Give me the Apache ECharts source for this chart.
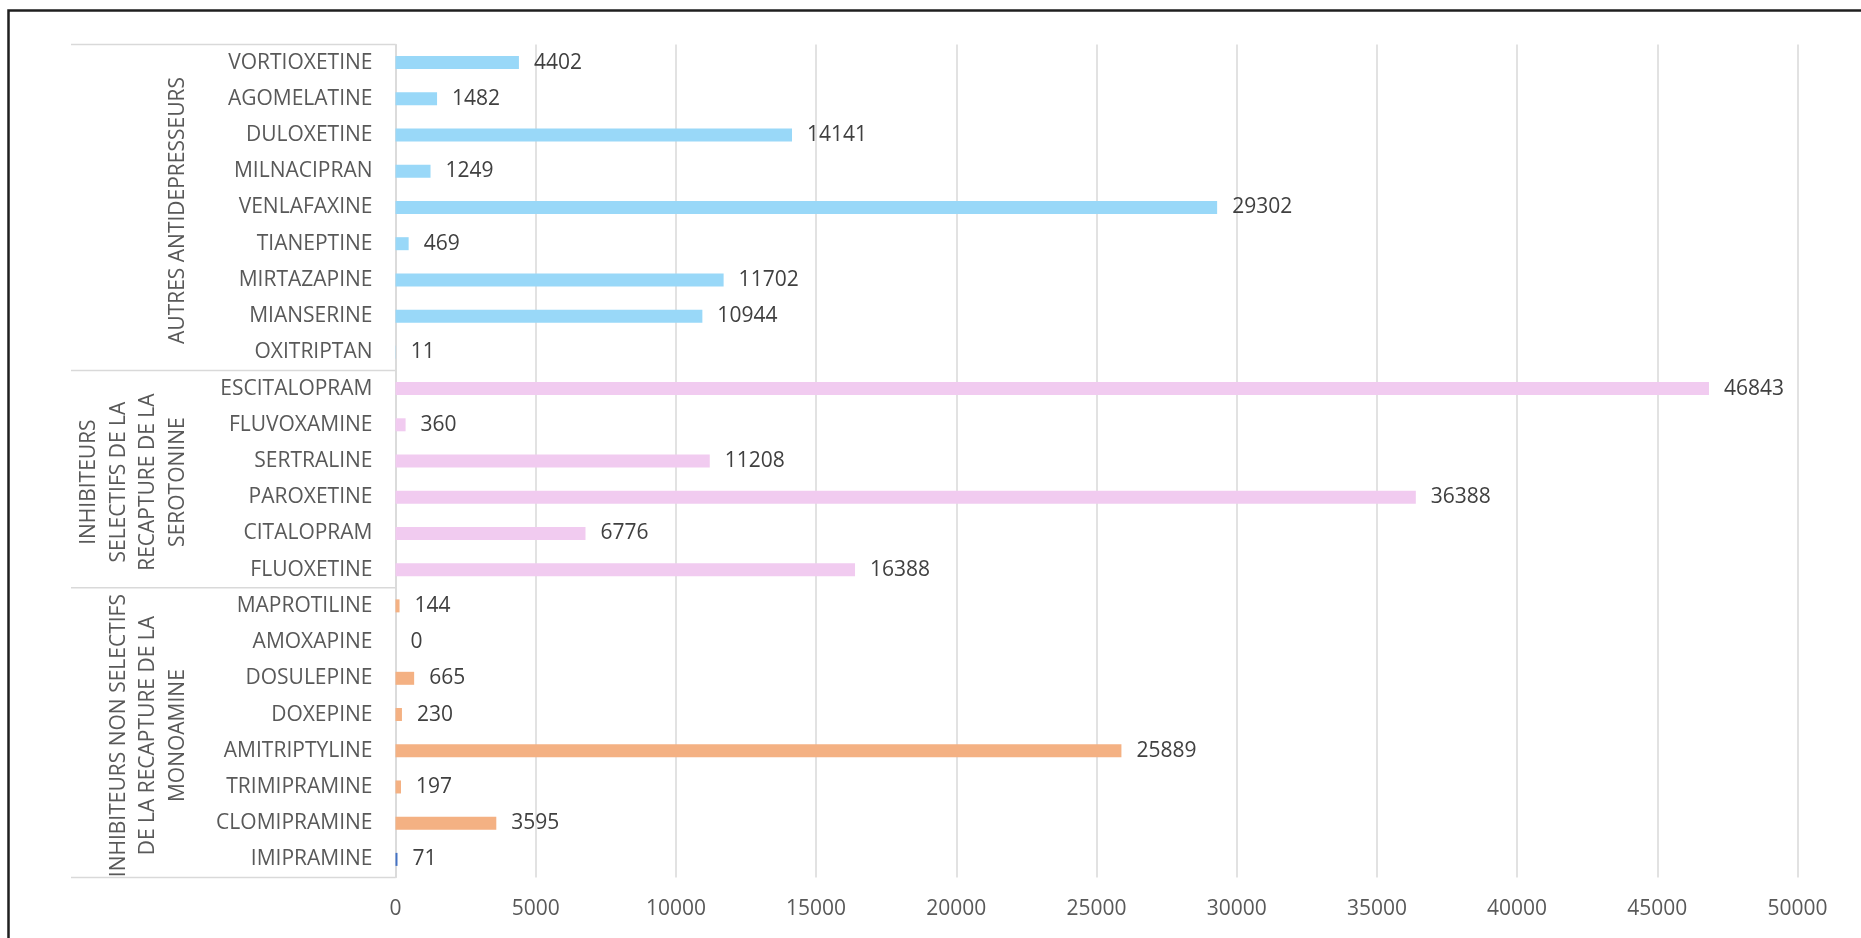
<!DOCTYPE html>
<html><head><meta charset="utf-8">
<script src="https://cdn.jsdelivr.net/npm/echarts@6/dist/echarts.min.js"></script>
<style>html,body{margin:0;padding:0;background:#fff}#c{width:1861px;height:938px}</style>
</head><body><div id="c"></div>
<script>
// ---- data (top to bottom as displayed) ----
const categories = [
  'VORTIOXETINE','AGOMELATINE','DULOXETINE','MILNACIPRAN','VENLAFAXINE','TIANEPTINE','MIRTAZAPINE','MIANSERINE','OXITRIPTAN',
  'ESCITALOPRAM','FLUVOXAMINE','SERTRALINE','PAROXETINE','CITALOPRAM','FLUOXETINE',
  'MAPROTILINE','AMOXAPINE','DOSULEPINE','DOXEPINE','AMITRIPTYLINE','TRIMIPRAMINE','CLOMIPRAMINE','IMIPRAMINE'
];
const values = [
  4402, 1482, 14141, 1249, 29302, 469, 11702, 10944, 11,
  46843, 360, 11208, 36388, 6776, 16388,
  144, 0, 665, 230, 25889, 197, 3595, 71
];
const groupNames = [
  'AUTRES ANTIDEPRESSEURS',
  'INHIBITEURS\nSELECTIFS DE LA\nRECAPTURE DE LA\nSEROTONINE',
  'INHIBITEURS NON SELECTIFS\nDE LA RECAPTURE DE LA\nMONOAMINE'
];
const groupSizes = [9, 6, 8];
const xMin = 0, xMax = 50000, xStep = 5000;

// ---- styles ----
const FONT = '"Open Sans", sans-serif';
const FS = 21;
const groupColors = ['#99D8F8', '#F1CBF0', '#F4B183'];
const specialColors = { 'IMIPRAMINE': '#4472C4' };
const GRID_COLOR = '#d9d9d9';

const groupOf = [];
groupSizes.forEach((n, g) => { for (let i = 0; i < n; i++) groupOf.push(g); });

const barData = values.map((v, i) => ({
  value: v,
  itemStyle: { color: specialColors[categories[i]] || groupColors[groupOf[i]] }
}));

const chart = echarts.init(document.getElementById('c'), null, { renderer: 'canvas' });
const option = {
  animation: false,
  backgroundColor: '#ffffff',
  grid: { left: 395.5, top: 44.5, width: 1402, height: 833, containLabel: false },
  xAxis: {
    type: 'value', min: xMin, max: xMax, interval: xStep,
    axisLine: { show: false }, axisTick: { show: false },
    splitLine: { show: true, lineStyle: { color: GRID_COLOR, width: 1.5 } },
    axisLabel: { color: '#595959', fontSize: FS, fontFamily: FONT, margin: 21, formatter: v => String(v) }
  },
  yAxis: {
    type: 'category', data: categories, inverse: true,
    axisLine: { show: true, lineStyle: { color: GRID_COLOR, width: 1.5 } },
    axisTick: { show: false },
    axisLabel: { color: '#595959', fontSize: FS, fontFamily: FONT, margin: 23 }
  },
  series: [{
    type: 'bar', data: barData, barWidth: 13,
    label: { show: true, position: 'right', distance: 15, color: '#404040', fontSize: FS, fontFamily: FONT }
  }]
};
chart.setOption(option);

// ---- multi-level category box & group labels ----
const c0 = chart.convertToPixel({ yAxisIndex: 0 }, 0);
const c1 = chart.convertToPixel({ yAxisIndex: 0 }, 1);
const band = c1 - c0;
const axisX = chart.convertToPixel({ xAxisIndex: 0 }, 0);
const boxLeft = 71;
const graphics = [];
let start = 0;
const bounds = [];
groupSizes.forEach((n) => {
  const top = chart.convertToPixel({ yAxisIndex: 0 }, start) - band / 2;
  const bottom = chart.convertToPixel({ yAxisIndex: 0 }, start + n - 1) + band / 2;
  bounds.push([top, bottom]);
  start += n;
});
const lineYs = bounds.map(b => b[0]).concat([bounds[bounds.length - 1][1]]);
lineYs.forEach(y => {
  graphics.push({
    type: 'line', silent: true,
    shape: { x1: boxLeft, y1: y, x2: axisX, y2: y },
    style: { stroke: GRID_COLOR, lineWidth: 1.5 }
  });
});
bounds.forEach((b, g) => {
  graphics.push({
    type: 'text', silent: true,
    x: 193, y: (b[0] + b[1]) / 2 + 3, rotation: Math.PI / 2,
    style: {
      text: groupNames[g], x: 0, y: 0,
      fill: '#595959', font: FS + 'px ' + FONT,
      align: 'center', verticalAlign: 'bottom', lineHeight: 29.7
    }
  });
});
// outer frame (cropped at right/bottom)
graphics.push({
  type: 'rect', silent: true,
  shape: { x: 8.5, y: 10.5, width: 1900, height: 1000 },
  style: { fill: 'none', stroke: '#1f1f1f', lineWidth: 2.5 }
});
chart.setOption({ graphic: graphics });
</script>
</body></html>
